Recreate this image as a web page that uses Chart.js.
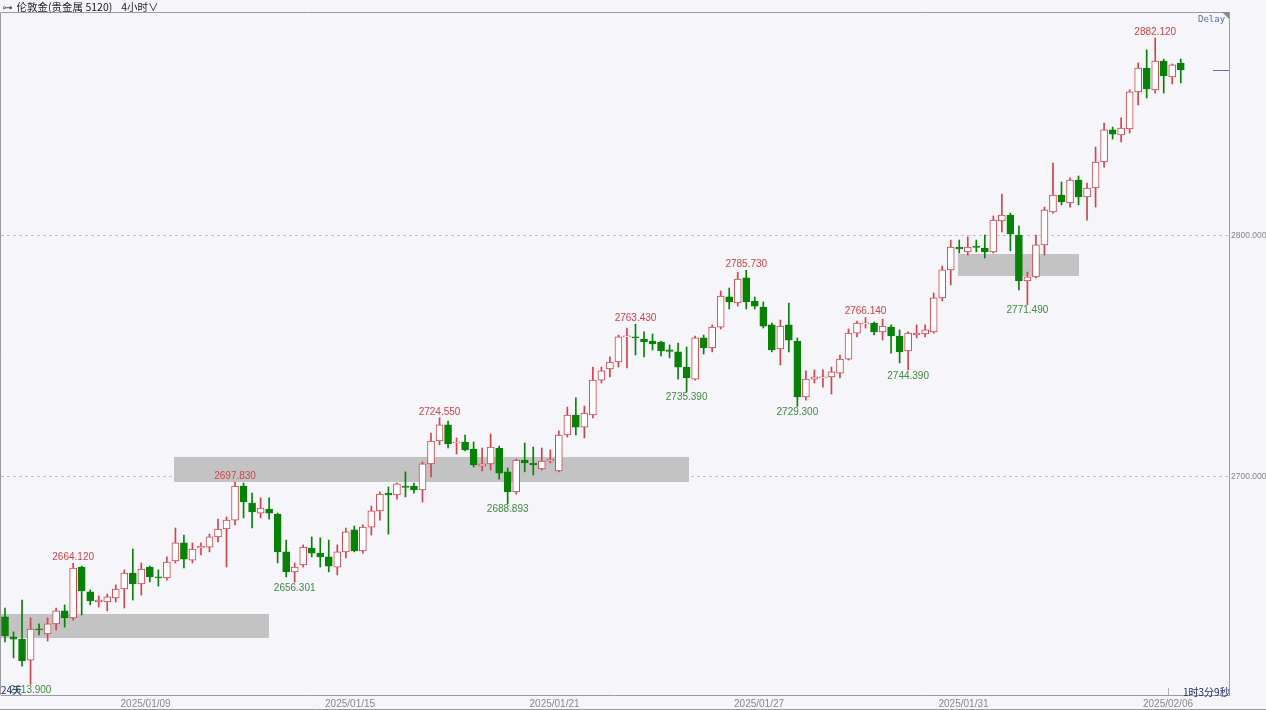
<!DOCTYPE html>
<html lang="zh">
<head>
<meta charset="UTF-8">
<title>伦敦金 4小时</title>
<script src="https://cdn.jsdelivr.net/npm/chart.js@4.4.1/dist/chart.umd.min.js"></script>
<style>
  body { margin: 0; background: #f5f5fa; }
  #wrap { position: relative; width: 1266px; height: 710px; overflow: hidden; }
  #kline { position: absolute; left: 0; top: 0; }
  #head { position: absolute; left: 2px; top: -1px; height: 12px; line-height: 13px; white-space: nowrap;
          font: 10.5px "Noto Sans CJK SC", sans-serif; color: #222; }
  #head .ico { font-family: "DejaVu Sans", sans-serif; color: #555; margin-right: 4px; }
  #head .tf { margin-left: 9px; }
  .note { position: absolute; font: 10px "Noto Sans CJK SC", sans-serif; color: #1e2b6f; white-space: nowrap; }
  #delay { position: absolute; left: 1198px; top: 14px; font: 9px "DejaVu Sans Mono", monospace; color: #5a6ea5; }
  #corner { position: absolute; left: 1222px; top: 12px; width: 0; height: 0;
            border-top: 7px solid #8a8a8a; border-left: 7px solid transparent; }
</style>
</head>
<body>
<div id="wrap">
  <canvas id="kline" width="1266" height="710"></canvas>
  <div id="head"><span class="ico">⊶</span>伦敦金(贵金属 5120)<span class="tf">4小时∨</span></div>
  <div id="delay">Delay</div>
  <div id="corner"></div>
  <div class="note" style="left:1px; top:682px;">24天</div>
  <div class="note" style="left:1183px; top:684px;">1时3分9秒</div>
</div>

<script>
  // 4H candles (oldest first)
  const opens = [
    2641.9, 2633.6, 2632.7, 2624.0, 2636.9, 2634.8, 2639.0, 2644.4, 2641.5, 2662.6,
    2652.3, 2648.1, 2648.1, 2649.8, 2653.5, 2660.1, 2655.6, 2662.6, 2658.5, 2658.1,
    2665.1, 2672.6, 2665.5, 2670.5, 2670.9, 2675.1, 2678.4, 2682.1, 2696.2, 2689.2,
    2685.0, 2686.7, 2684.6, 2668.9, 2660.6, 2663.5, 2670.5, 2668.4, 2666.8, 2662.6,
    2668.9, 2678.0, 2669.3, 2679.2, 2685.9, 2693.3, 2692.5, 2696.2, 2696.2, 2694.6,
    2705.4, 2714.9, 2721.6, 2714.1, 2714.5, 2711.6, 2704.5, 2705.4, 2712.0, 2702.1,
    2693.8, 2707.0, 2705.8, 2703.3, 2706.6, 2702.5, 2717.4, 2725.7, 2720.7, 2725.7,
    2740.2, 2744.8, 2747.7, 2758.1, 2758.1, 2757.2, 2756.4, 2756.0, 2752.7, 2751.9,
    2745.6, 2740.6, 2757.7, 2753.5, 2762.2, 2774.7, 2772.2, 2782.6, 2773.0, 2770.5,
    2763.1, 2753.1, 2763.1, 2756.4, 2733.2, 2740.6, 2741.1, 2741.5, 2743.1, 2748.9,
    2759.7, 2763.5, 2763.9, 2760.2, 2762.2, 2758.5, 2752.3, 2758.9, 2759.3, 2760.2,
    2774.3, 2785.9, 2795.4, 2793.4, 2795.8, 2795.0, 2793.4, 2806.2, 2808.7, 2800.4,
    2781.3, 2783.0, 2796.3, 2810.0, 2817.0, 2813.7, 2823.2, 2816.2, 2819.9, 2830.7,
    2844.0, 2841.9, 2844.4, 2859.8, 2869.7, 2860.6, 2872.6, 2866.0, 2871.8
  ];
  const highs = [
    2645.6, 2635.7, 2648.9, 2641.5, 2639.0, 2641.5, 2645.6, 2646.9, 2664.12, 2663.0,
    2653.1, 2650.6, 2651.4, 2655.2, 2661.4, 2670.1, 2664.3, 2663.0, 2661.4, 2666.8,
    2678.8, 2675.9, 2672.6, 2672.6, 2676.3, 2682.5, 2683.4, 2697.83, 2697.5, 2693.3,
    2691.3, 2691.3, 2685.0, 2673.8, 2664.3, 2671.8, 2675.1, 2674.7, 2673.8, 2671.8,
    2678.8, 2679.6, 2680.1, 2687.9, 2693.8, 2695.8, 2697.5, 2702.1, 2697.5, 2706.2,
    2718.2, 2724.55, 2723.2, 2716.2, 2717.4, 2714.5, 2712.0, 2717.8, 2712.8, 2703.7,
    2707.4, 2714.1, 2712.4, 2712.0, 2711.2, 2719.1, 2729.0, 2732.8, 2729.4, 2745.6,
    2745.6, 2749.8, 2758.9, 2761.8, 2763.43, 2760.2, 2759.3, 2756.4, 2754.8, 2755.6,
    2753.9, 2758.5, 2758.9, 2763.1, 2777.2, 2778.4, 2785.0, 2785.73, 2774.7, 2772.6,
    2763.9, 2765.1, 2772.2, 2757.7, 2744.0, 2744.4, 2744.4, 2745.6, 2750.6, 2761.4,
    2764.7, 2766.14, 2764.3, 2765.5, 2763.1, 2761.0, 2760.2, 2763.1, 2763.1, 2776.3,
    2787.5, 2798.3, 2798.3, 2799.6, 2798.3, 2800.4, 2808.3, 2817.4, 2809.5, 2804.1,
    2785.0, 2800.4, 2812.0, 2830.3, 2822.4, 2824.1, 2824.9, 2822.0, 2836.9, 2846.9,
    2845.2, 2849.0, 2860.6, 2871.8, 2877.2, 2882.12, 2873.4, 2871.4, 2873.4
  ];
  const lows = [
    2631.5, 2624.9, 2621.5, 2613.9, 2634.4, 2631.9, 2636.5, 2637.7, 2640.6, 2642.7,
    2646.9, 2646.0, 2644.4, 2648.1, 2645.6, 2648.9, 2651.0, 2656.4, 2654.7, 2657.2,
    2664.3, 2662.2, 2664.3, 2667.6, 2668.9, 2673.0, 2662.6, 2680.1, 2683.0, 2678.8,
    2683.0, 2682.5, 2664.3, 2658.5, 2656.301, 2662.6, 2666.8, 2662.6, 2660.6, 2659.3,
    2666.4, 2668.9, 2668.4, 2675.9, 2682.1, 2676.3, 2690.8, 2691.7, 2693.3, 2689.6,
    2700.0, 2713.3, 2712.0, 2709.5, 2710.8, 2704.1, 2702.5, 2702.9, 2699.1, 2688.893,
    2692.9, 2702.1, 2700.8, 2702.9, 2705.8, 2702.1, 2716.6, 2717.4, 2716.2, 2724.5,
    2739.0, 2741.5, 2745.6, 2745.2, 2750.6, 2749.8, 2752.7, 2750.2, 2749.4, 2740.6,
    2735.39, 2740.2, 2751.0, 2751.9, 2761.4, 2769.7, 2770.9, 2769.7, 2769.7, 2761.8,
    2751.9, 2746.5, 2751.9, 2729.3, 2731.9, 2739.0, 2737.3, 2734.4, 2741.1, 2748.5,
    2758.1, 2761.8, 2758.9, 2756.8, 2751.4, 2747.3, 2744.39, 2757.7, 2758.1, 2759.7,
    2773.0, 2779.7, 2792.9, 2792.1, 2793.4, 2790.9, 2792.9, 2801.7, 2793.8, 2777.6,
    2771.49, 2782.6, 2792.1, 2809.5, 2812.9, 2812.0, 2812.9, 2806.6, 2812.0, 2828.6,
    2840.2, 2839.0, 2842.7, 2854.4, 2857.3, 2859.3, 2859.3, 2863.1, 2863.5
  ];
  const closes = [
    2634.0, 2632.7, 2623.6, 2636.9, 2636.5, 2639.0, 2644.4, 2641.5, 2662.2, 2652.7,
    2648.5, 2648.9, 2650.2, 2653.5, 2660.1, 2655.6, 2661.8, 2658.5, 2658.1, 2664.7,
    2672.6, 2665.9, 2670.1, 2671.3, 2675.1, 2678.4, 2682.1, 2696.2, 2689.6, 2685.5,
    2687.1, 2685.0, 2668.9, 2660.6, 2662.6, 2670.9, 2668.4, 2666.8, 2663.0, 2668.9,
    2677.2, 2669.3, 2679.2, 2685.9, 2692.9, 2692.5, 2697.1, 2695.6, 2694.6, 2705.4,
    2714.9, 2721.6, 2713.7, 2714.5, 2711.2, 2705.0, 2705.4, 2712.4, 2701.6, 2693.8,
    2707.0, 2705.8, 2705.0, 2706.6, 2707.4, 2717.4, 2725.7, 2720.7, 2726.5, 2740.2,
    2744.0, 2747.7, 2758.1, 2758.5, 2757.7, 2756.0, 2755.2, 2752.3, 2752.1, 2745.6,
    2741.1, 2757.7, 2753.5, 2762.2, 2775.1, 2772.6, 2782.1, 2772.6, 2770.9, 2762.6,
    2752.7, 2762.6, 2756.8, 2733.2, 2740.6, 2741.5, 2741.5, 2743.6, 2748.9, 2759.7,
    2763.9, 2763.9, 2760.2, 2762.6, 2758.5, 2751.9, 2759.7, 2759.7, 2761.0, 2774.3,
    2785.9, 2795.4, 2794.6, 2795.4, 2795.2, 2793.4, 2806.6, 2808.7, 2800.8, 2781.3,
    2783.0, 2796.3, 2810.8, 2817.0, 2814.1, 2823.2, 2816.2, 2819.9, 2830.7, 2844.0,
    2842.3, 2844.8, 2859.8, 2869.7, 2861.0, 2872.6, 2866.4, 2871.0, 2868.9
  ];

  // swing highs / lows that carry a price label (candle index)
  const highMarks = [8, 27, 51, 74, 87, 101, 135];
  const lowMarks = [3, 34, 59, 80, 93, 106, 120];

  // date labels on the time axis and the candle they sit after
  const dateLabels = ['2025/01/09', '2025/01/15', '2025/01/21', '2025/01/27', '2025/01/31', '2025/02/06'];
  const dateIdx = [16, 40, 64, 88, 112, 136];

  // price levels on the right axis
  const priceTicks = [2700, 2800];

  // grey zones: candle index range and price range
  const zoneFrom = [-1, 19.8, 111.9];
  const zoneTo = [31.1, 80.2, 126.1];
  const zoneLow = [2633.2, 2697.9, 2783.4];
  const zoneHigh = [2643.1, 2708.3, 2792.5];

  const UP = '#d2434b';
  const DOWN = '#078207';

  const idx = opens.map((_, i) => i);
  const isUp = idx.map(i => closes[i] >= opens[i]);
  const wickData = idx.map(i => ({ x: i, y: [lows[i], highs[i]] }));
  const bodyData = idx.map(i => ({ x: i, y: [Math.min(opens[i], closes[i]), Math.max(opens[i], closes[i])] }));

  const extras = {
    id: 'extras',
    beforeDatasetsDraw(chart) {
      const { ctx, chartArea: a, scales: { x, y } } = chart;
      ctx.save();
      ctx.beginPath();
      ctx.rect(a.left, a.top, a.width, a.height);
      ctx.clip();
      ctx.fillStyle = '#c3c3c3';
      zoneFrom.forEach((from, i) => {
        const x0 = x.getPixelForValue(from), x1 = x.getPixelForValue(zoneTo[i]);
        const y0 = y.getPixelForValue(zoneHigh[i]), y1 = y.getPixelForValue(zoneLow[i]);
        ctx.fillRect(Math.round(x0), Math.round(y0), Math.round(x1 - x0), Math.round(y1 - y0));
      });
      ctx.restore();
    },
    afterDatasetsDraw(chart) {
      const { ctx, chartArea: a, scales: { x, y } } = chart;
      ctx.save();
      ctx.font = '10px "Liberation Sans", Arial, sans-serif';
      ctx.textAlign = 'center';
      ctx.fillStyle = '#cf4545';
      ctx.textBaseline = 'bottom';
      highMarks.forEach(i => {
        ctx.fillText(highs[i].toFixed(3), x.getPixelForValue(i), y.getPixelForValue(highs[i]) - 1);
      });
      ctx.fillStyle = '#3f8d3f';
      ctx.textBaseline = 'top';
      lowMarks.forEach(i => {
        ctx.fillText(lows[i].toFixed(3), x.getPixelForValue(i), y.getPixelForValue(lows[i]) + 1);
      });

      // last price marker
      const py = Math.round(y.getPixelForValue(closes[closes.length - 1])) + 0.5;
      ctx.strokeStyle = '#6b6fa8';
      ctx.lineWidth = 1;
      ctx.beginPath();
      ctx.moveTo(a.right - 16, py);
      ctx.lineTo(a.right, py);
      ctx.stroke();

      // frame
      ctx.strokeStyle = '#9c9c9c';
      ctx.beginPath();
      ctx.moveTo(0.5, a.bottom);
      ctx.lineTo(0.5, a.top + 0.5);
      ctx.lineTo(a.right, a.top + 0.5);
      ctx.moveTo(0, chart.height - 0.5);
      ctx.lineTo(chart.width, chart.height - 0.5);
      ctx.stroke();

      // small time marker above the last date label
      const tx = Math.round(x.getPixelForValue(dateIdx[dateIdx.length - 1] + 0.5)) + 0.5;
      ctx.strokeStyle = '#b0b0b0';
      ctx.beginPath();
      ctx.moveTo(tx, a.bottom - 7);
      ctx.lineTo(tx, a.bottom);
      ctx.stroke();
      ctx.restore();
    }
  };

  new Chart('kline', {
    type: 'bar',
    data: {
      datasets: [
        {
          data: wickData,
          backgroundColor: isUp.map(u => u ? UP : DOWN),
          borderWidth: 0,
          barThickness: 1,
          grouped: false,
          order: 2
        },
        {
          data: bodyData,
          backgroundColor: isUp.map(u => u ? '#ffffff' : DOWN),
          borderColor: isUp.map(u => u ? UP : DOWN),
          borderWidth: 1,
          borderSkipped: false,
          barThickness: 7,
          minBarLength: 1,
          grouped: false,
          order: 1
        }
      ]
    },
    options: {
      responsive: false,
      animation: false,
      layout: { padding: { top: 12, left: 1, right: 0, bottom: 0 } },
      plugins: { legend: { display: false }, tooltip: { enabled: false } },
      scales: {
        x: {
          type: 'linear',
          min: -0.47,
          max: 143.66,
          offset: false,
          grid: { display: false, drawTicks: false, tickLength: 0 },
          border: { display: true, color: '#9c9c9c' },
          afterBuildTicks: s => { s.ticks = dateIdx.map(i => ({ value: i + 0.5 })); },
          afterFit: s => { s.height = 15; },
          ticks: {
            autoSkip: false,
            maxRotation: 0,
            padding: 3,
            color: '#8a8a8a',
            font: { family: '"Liberation Sans", Arial, sans-serif', size: 10 },
            callback: (v, n) => dateLabels[n]
          }
        },
        y: {
          position: 'right',
          min: 2609.5,
          max: 2892.95,
          grid: { color: '#c4c4c4', drawTicks: false },
          border: { display: true, color: '#9c9c9c', dash: [3, 3] },
          afterBuildTicks: s => { s.ticks = priceTicks.map(v => ({ value: v })); },
          afterFit: s => { s.width = 37; },
          ticks: {
            padding: 2,
            color: '#888',
            font: { family: '"Liberation Sans", Arial, sans-serif', size: 8.5 },
            callback: v => v.toFixed(3)
          }
        }
      }
    },
    plugins: [extras]
  });
</script>
</body>
</html>
